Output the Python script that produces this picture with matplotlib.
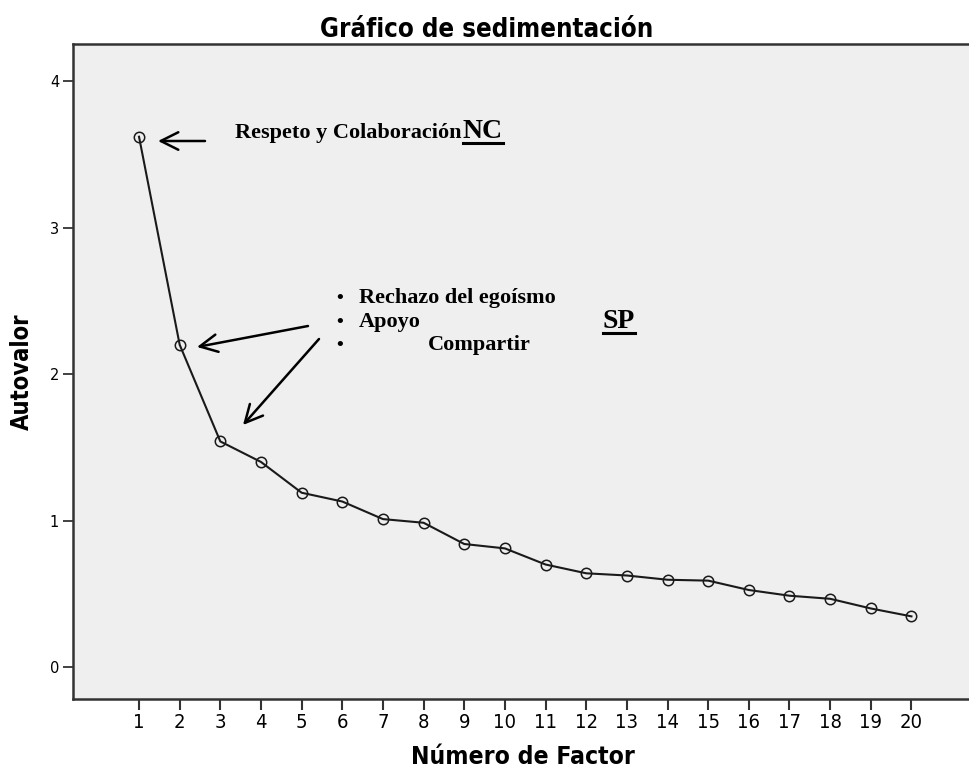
import matplotlib
matplotlib.use("Agg")
import matplotlib.pyplot as plt
from matplotlib.lines import Line2D
from matplotlib.patches import FancyArrowPatch

# ---- data ----
factors = list(range(1, 21))
eigenvalues = [3.62, 2.20, 1.54, 1.40, 1.19, 1.13, 1.01, 0.985, 0.84, 0.81,
               0.70, 0.64, 0.625, 0.596, 0.59, 0.526, 0.487, 0.466, 0.40, 0.346]
y_ticks = [0, 1, 2, 3, 4]
title = "Gráfico de sedimentación"
xlabel = "Número de Factor"
ylabel = "Autovalor"
label_nc = "Respeto y Colaboración"
bullet_items = ["Rechazo del egoísmo", "Apoyo", "Compartir"]

W, H = 970, 769
fig = plt.figure(figsize=(W / 100, H / 100), dpi=100)
fig.patch.set_facecolor("white")

def fx(px):
    return px / W

def fy(py):
    return 1 - py / H

ax = fig.add_axes([fx(73), fy(699), 1 - fx(73), fy(44) - fy(699)])
ax.set_facecolor("#efefef")
ax.plot(factors, eigenvalues, color="#1a1a1a", lw=1.5, marker="o",
        markersize=7.5, markerfacecolor="none", markeredgecolor="#1a1a1a",
        markeredgewidth=1.1, zorder=3)

ax.set_xlim(-0.624, 21.44)
ax.set_ylim(-0.218, 4.253)
ax.set_xticks(factors)
ax.set_yticks(y_ticks)
ax.set_xticklabels([str(f) for f in factors], fontsize=14.5, fontstretch="condensed")
ax.set_yticklabels([str(t) for t in y_ticks], fontsize=10.5)
ax.tick_params(axis="x", direction="out", length=8, width=1.5, color="#333333", pad=2)
ax.tick_params(axis="y", direction="out", length=7, width=1.3, color="#333333", pad=3)
for s in ["left", "top", "bottom"]:
    ax.spines[s].set_color("#333333")
    ax.spines[s].set_linewidth(1.8)
ax.spines["right"].set_visible(False)

# titles
fig.text(fx(487), fy(37), title, ha="center", va="baseline", fontsize=18.5,
         fontweight="bold", fontstretch="condensed")
fig.text(fx(523), fy(764), xlabel, ha="center", va="baseline", fontsize=17.7,
         fontweight="bold", fontstretch="condensed")
fig.text(fx(22), fy(372), ylabel, ha="center", va="center", fontsize=17,
         fontweight="bold", fontstretch="condensed", rotation=90)

serif = "Liberation Serif"

# annotations (text)
fig.text(fx(235), fy(138), label_nc, ha="left", va="baseline",
         fontsize=16, fontweight="bold", family=serif)
nc = fig.text(fx(463), fy(138), "NC", ha="left", va="baseline",
              fontsize=20, fontweight="bold", family=serif)
sp = fig.text(fx(603), fy(328), "SP", ha="left", va="baseline",
              fontsize=20, fontweight="bold", family=serif)

bx = [359, 359, 428]
by = [303, 327, 350]
for txt, x, y in zip(bullet_items, bx, by):
    fig.text(fx(340), fy(y), "•", ha="center", va="baseline", fontsize=14,
             fontweight="bold", family=serif)
    fig.text(fx(x), fy(y), txt, ha="left", va="baseline", fontsize=16,
             fontweight="bold", family=serif)

# arrows (figure pixel coordinates)
arrow_kw = dict(arrowstyle="->,head_length=0.9,head_width=0.45", color="black", lw=1.8)
arrows = [((205, 141), (158, 141)), ((308, 326), (197, 347)), ((319, 339), (243, 425))]
for (x0, y0), (x1, y1) in arrows:
    fig.patches.append(FancyArrowPatch(
        (fx(x0), fy(y0)), (fx(x1), fy(y1)), transform=fig.transFigure,
        mutation_scale=14, shrinkA=0, shrinkB=0, **arrow_kw))

# underlines
fig.canvas.draw()
r = fig.canvas.get_renderer()
for t, uy in [(nc, 142.5), (sp, 332.5)]:
    bb = t.get_window_extent(r)
    fig.add_artist(Line2D([bb.x0 / W, bb.x1 / W], [fy(uy), fy(uy)],
                          transform=fig.transFigure, color="black", lw=2.2))

fig.savefig("out.png", dpi=100)
